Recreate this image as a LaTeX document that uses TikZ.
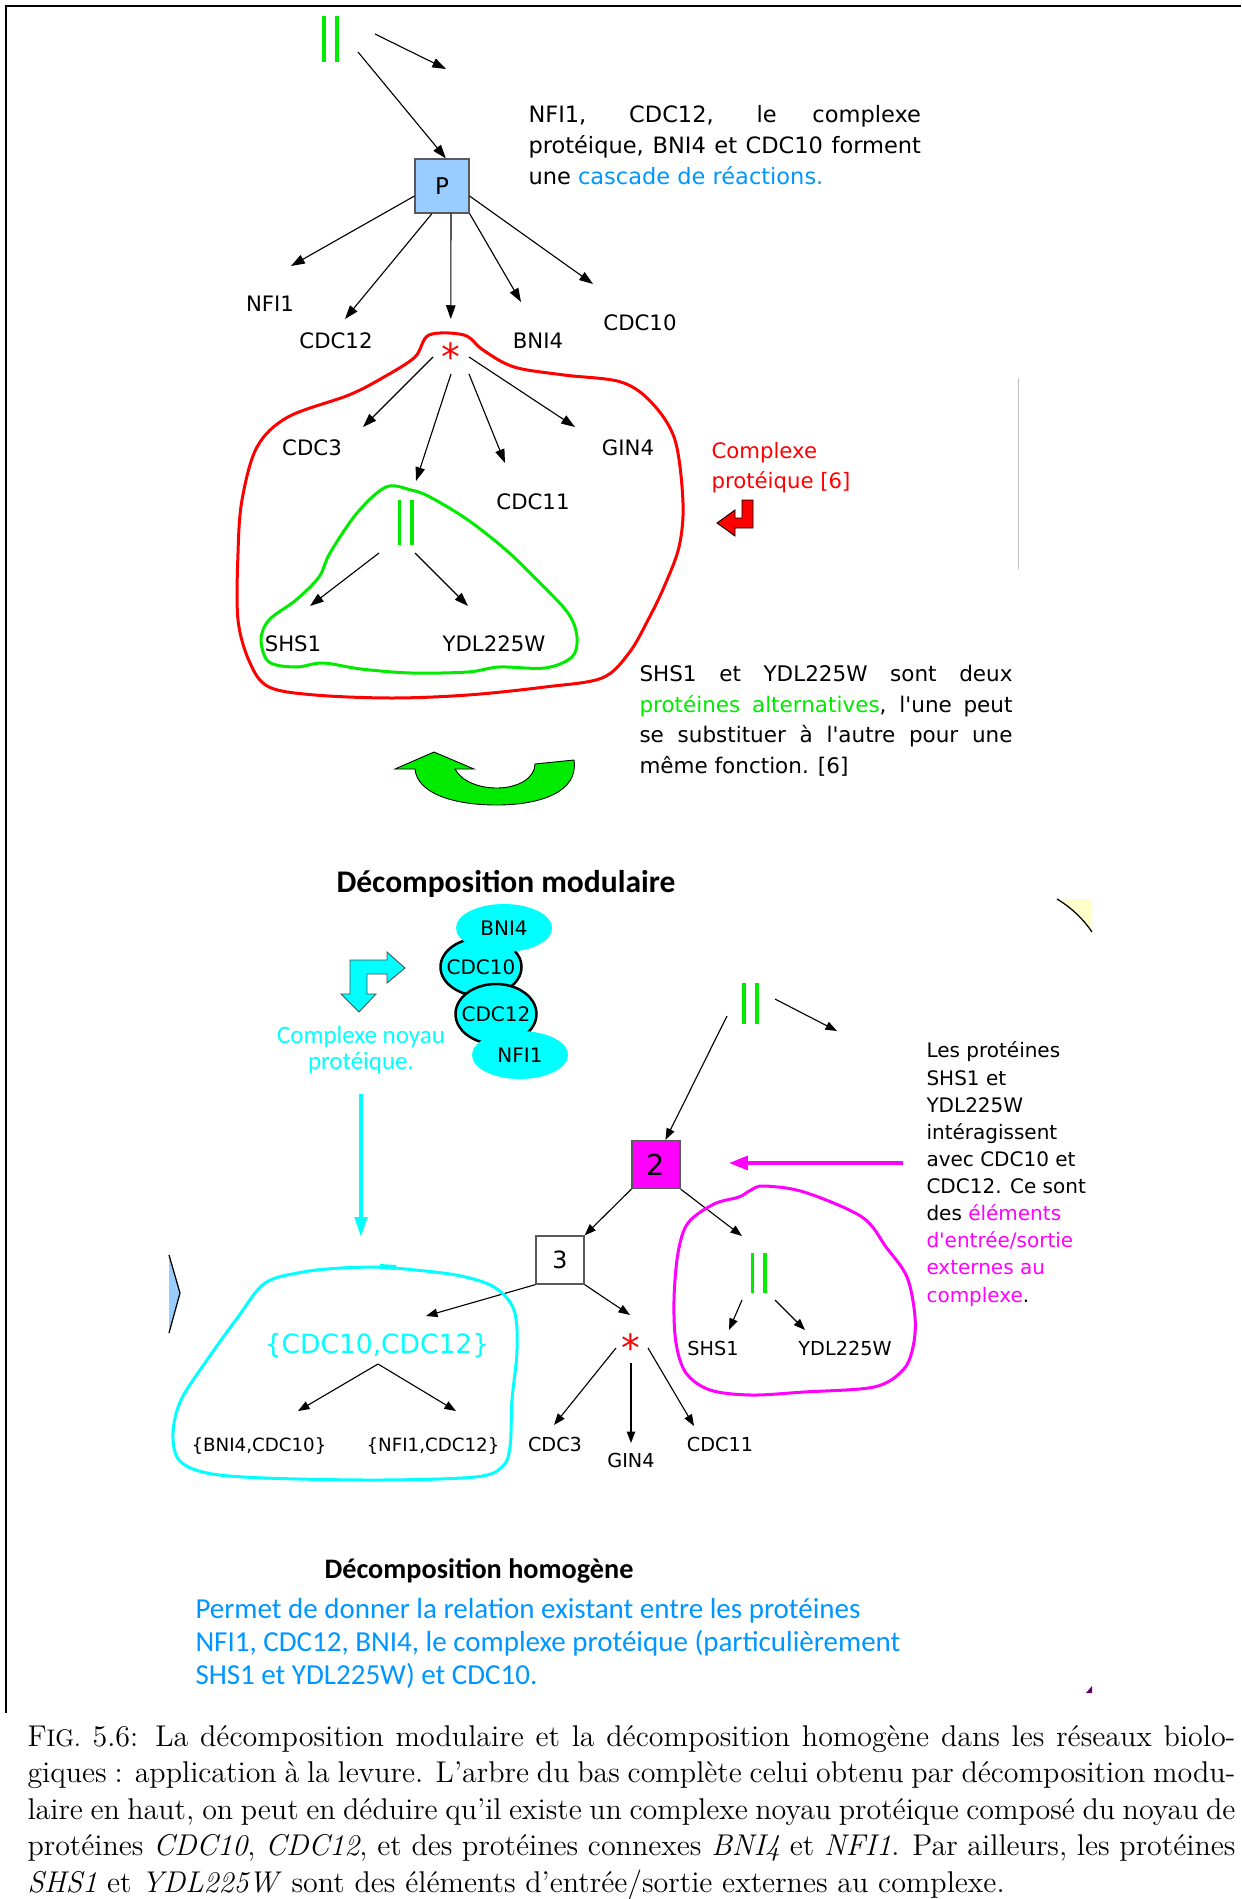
\documentclass[tikz,border=0pt]{standalone}
\usepackage{fontspec}
\newfontfamily\dvs{DejaVu Sans}
\newfontfamily\carl{Carlito}
\usetikzlibrary{arrows.meta,shapes.geometric}

\definecolor{pred}{RGB}{255,0,0}
\definecolor{pgreen}{RGB}{0,235,0}
\definecolor{pblue}{RGB}{0,150,255}
\definecolor{pcyan}{RGB}{0,255,255}
\definecolor{pmag}{RGB}{255,0,255}
\definecolor{pboxblue}{RGB}{153,204,255}
\definecolor{pyellow}{RGB}{255,255,204}
\definecolor{ppurple}{RGB}{102,0,102}

\tikzset{
  arr/.style={-{Triangle[length=5.5pt,width=3.8pt]},line width=0.45pt},
  arrs/.style={-{Triangle[length=4.6pt,width=3.4pt]},line width=0.45pt},
  lbl/.style={font=\dvs\fontsize{8.5}{10}\selectfont,inner sep=0,anchor=base},
  lbls/.style={font=\dvs\fontsize{7.7}{9}\selectfont,inner sep=0,anchor=base},
  parbars/.style={minimum width=7.2pt,minimum height=#1,inner sep=0,
    path picture={\draw[pgreen,line width=1.5pt]
      ([xshift=-2.5pt]path picture bounding box.north)--([xshift=-2.5pt]path picture bounding box.south)
      ([xshift=2.5pt]path picture bounding box.north)--([xshift=2.5pt]path picture bounding box.south);}},
  starmark/.style={text=pred,font=\dvs\fontsize{15}{15}\selectfont,inner sep=0,anchor=base},
  blob/.style={line width=1.2pt,smooth cycle,tension=0.55},
  sqbox/.style={draw=gray!70!black,line width=0.5pt,minimum size=#1,inner sep=0},
  blob ell/.style={ellipse,fill=pcyan,inner xsep=-3pt,inner ysep=0pt,font=\dvs\fontsize{8}{9}\selectfont},
  iconedge/.style={draw=black,line width=0.35pt},
  % multi-line blocks are anchored at the baseline of their last line
  para/.style={anchor=base west,inner sep=0,align=left},
}

\begin{document}
\begin{tikzpicture}[x=0.4pt,y=-0.4pt]
\path[use as bounding box] (0,0) rectangle (1241,1899);

% frame
\draw[line width=1pt] (6,1713) -- (6,6) -- (1241,6);

% ---------------- upper tree ----------------
\node[parbars=18.4pt] (par1) at (330.5,39) {};
\node[sqbox=21.6pt,fill=pboxblue,font=\dvs\fontsize{9.2}{10}\selectfont] (P) at (442,186) {P};
\coordinate (a1s) at (375,34);  \coordinate (a1e) at (446,69);
\coordinate (a2s) at (358,52);
\draw[arr] (a1s) -- (a1e);
\draw[arr] (a2s) -- (P.82);

\coordinate (eNFI) at (291,266);
\coordinate (eCDCa) at (345,319);
\coordinate (eMid) at (450.8,319);
\coordinate (eBNI) at (521,302);
\coordinate (eCDCb) at (593,284);
\draw[arr] (P.200) -- (eNFI);
\draw[arr] (P.250) -- (eCDCa);
\draw[arr] (P.288) -- (eMid);
\draw[arr] (P.315) -- (eBNI);
\draw[arr] (P.340) -- (eCDCb);

\node[lbl] (tNFI) at (270,311) {NFI1};
\node[lbl] (tCDC12) at (336,348) {CDC12};
\node[lbl] (tBNI) at (538,348) {BNI4};
\node[lbl] (tCDC10) at (640,330) {CDC10};

% protein complex
\draw[pred,blob] plot coordinates {(429,335) (464,335) (483,350) (514,367) (564,375) (621,382) (652,403) (675,440) (683,503) (679,547) (664,587) (648,620) (629,653) (602,678) (545,687) (468,695) (392,698) (315,695) (269,687) (250,663) (238,620) (238,553) (242,500) (257,447) (288,417) (349,395) (384,377) (415,357)};
\node[starmark] (st1) at (451,370) {*};
\coordinate (s1a) at (433,357); \coordinate (s1ae) at (363,427);
\coordinate (s1b) at (451,374); \coordinate (s1be) at (416,481);
\coordinate (s1c) at (469,374); \coordinate (s1ce) at (505,463);
\coordinate (s1d) at (469,357); \coordinate (s1de) at (575,427);
\draw[arr] (s1a) -- (s1ae);
\draw[arr] (s1b) -- (s1be);
\draw[arr] (s1c) -- (s1ce);
\draw[arr] (s1d) -- (s1de);
\node[lbl] (tCDC3) at (312,455) {CDC3};
\node[lbl] (tGIN4) at (628,455) {GIN4};
\node[lbl] (tCDC11) at (533,509) {CDC11};

% alternative proteins
\draw[pgreen,blob] plot coordinates {(386,487) (411,490) (430,497) (468,520) (506,550) (537,580) (568,613) (577,637) (572,657) (545,668) (499,667) (468,672) (411,673) (361,669) (323,663) (296,667) (269,662) (261,640) (269,620) (296,600) (319,577) (330,553) (357,513)};
\node[parbars=18pt] (par2) at (405.75,522.5) {};
\coordinate (p2a) at (379,553); \coordinate (p2ae) at (310,606);
\coordinate (p2b) at (415,553); \coordinate (p2be) at (468,606);
\draw[arr] (p2a) -- (p2ae);
\draw[arr] (p2b) -- (p2be);
\node[lbl] (tSHS1) at (293,651) {SHS1};
\node[lbl] (tYDL) at (494,651) {YDL225W};

% texts of the upper part
\node[para,font=\dvs\fontsize{9}{12.4}\selectfont] (txtTop) at (528,185)
  {\makebox[157pt][s]{NFI1, CDC12, le complexe}\\
   \makebox[157pt][s]{protéique, BNI4 et CDC10 forment}\\
   une \textcolor{pblue}{cascade de réactions.}};
\node[para,text=pred,font=\dvs\fontsize{8.5}{12}\selectfont] (txtCplx) at (711,488)
  {Complexe\\protéique [6]};
\node[para,font=\dvs\fontsize{8.6}{12.2}\selectfont] (txtAlt) at (639,773)
  {\makebox[149.2pt][s]{SHS1 et YDL225W sont deux}\\
   \makebox[149.2pt][s]{\textcolor{pgreen}{protéines alternatives}, l\textquotesingle une peut}\\
   \makebox[149.2pt][s]{se substituer à l\textquotesingle autre pour une}\\
   même fonction. [6]};

% red bent arrow
\path[fill=pred,iconedge] (742,500) -- (753,500) -- (753,528) -- (735,528) -- (735,536) -- (717,523) -- (735,510) -- (735,518) -- (742,518) -- cycle;
% thin grey rule
\draw[gray!50,line width=0.3pt] (1018,378) -- (1018,569);

% green round arrow
\path[fill=pgreen,iconedge] (574,760) .. controls (579,792) and (540,805) .. (497,805)
  .. controls (450,805) and (417,792) .. (415,769) -- (395,769) -- (434,752) -- (474,769) -- (455,769)
  .. controls (462,782) and (480,788) .. (497,788) .. controls (518,788) and (535,778) .. (535,764) -- cycle;

% ---------------- modular decomposition ----------------
\node[anchor=base,inner sep=0,font=\carl\bfseries\fontsize{12.6}{14}\selectfont] (tMod) at (506,892) {Décomposition modulaire};

\node[blob ell,draw=black,line width=1pt,minimum width=32.4pt,minimum height=23.2pt] (eC10) at (481,967) {CDC10};
\node[blob ell,draw=black,line width=1pt,minimum width=32.4pt,minimum height=24pt] (eC12) at (496,1014) {CDC12};
\node[blob ell,minimum width=38.4pt,minimum height=19.2pt] (eBNI) at (504,928) {BNI4};
\node[blob ell,minimum width=38.4pt,minimum height=19.2pt] (eNFI) at (520,1055) {NFI1};

% cyan bent arrow
\path[fill=pcyan,draw=black!70,line width=0.35pt] (350,960) -- (387,960) -- (387,952) -- (405,968) -- (387,983) -- (387,974) -- (367,974) -- (367,994) -- (376,994) -- (359,1012) -- (341,994) -- (350,994) -- cycle;
\node[anchor=base,inner sep=0,align=center,text=pcyan,font=\carl\fontsize{10}{10.4}\selectfont] (tNoyau) at (361,1069) {Complexe noyau\\protéique.};
\coordinate (cyS) at (361,1094); \coordinate (cyE) at (361,1237);
\draw[pcyan,line width=1.4pt,-{Triangle[length=8pt,width=5pt]}] (cyS) -- (cyE);

% yellow and blue corner pieces
\path[fill=pyellow] (1057,899) .. controls (1072,908) and (1084,920) .. (1092,932) -- (1092,899) -- cycle;
\draw[line width=0.5pt] (1057,899) .. controls (1072,908) and (1084,920) .. (1092,932);
\path[fill=pboxblue] (169,1255) -- (180,1293) -- (169,1333) -- cycle;
\draw[line width=0.5pt] (169,1255) -- (180,1293) -- (169,1333);
\path[fill=ppurple] (1086,1693) -- (1092,1686) -- (1092,1693) -- cycle;

% ---------------- homogeneous tree ----------------
\node[parbars=16.4pt] (par3) at (750.5,1003.5) {};
\node[sqbox=19.2pt,fill=pmag,font=\dvs\fontsize{11.5}{12}\selectfont] (b2) at (656,1164.5) {2};
\node[sqbox=19.2pt,fill=white,font=\dvs\fontsize{9.5}{11}\selectfont] (b3) at (560,1260) {3};
\coordinate (p3a) at (775,999); \coordinate (p3ae) at (837,1031);
\coordinate (p3b) at (727,1016);
\draw[arrs] (p3a) -- (p3ae);
\draw[arrs] (p3b) -- (b2.69);
\draw[arrs] (b2.south west) -- (b3.north east);
\coordinate (b2e) at (742,1236);
\draw[arrs] (b2.south east) -- (b2e);

\coordinate (mgS) at (903,1163); \coordinate (mgE) at (729,1163);
\draw[pmag,line width=1.4pt,-{Triangle[length=7.5pt,width=5.5pt]}] (mgS) -- (mgE);

\coordinate (b3a) at (426,1316); \coordinate (b3b) at (630,1315);
\draw[arrs] (b3.south west) -- (b3a);
\draw[arrs] (b3.south east) -- (b3b);

\node[starmark] (st2) at (631,1361) {*};
\coordinate (s2a) at (616,1348); \coordinate (s2ae) at (554,1425);
\coordinate (s2b) at (631,1363); \coordinate (s2be) at (631,1443);
\coordinate (s2c) at (648,1348); \coordinate (s2ce) at (694,1426);
\draw[arrs] (s2a) -- (s2ae);
\draw[arrs] (s2b) -- (s2be);
\draw[arrs] (s2c) -- (s2ce);
\node[lbls] (lCDC3) at (555,1451) {CDC3};
\node[lbls] (lGIN4) at (631,1467) {GIN4};
\node[lbls] (lCDC11) at (720,1451) {CDC11};

% core complex
\draw[pcyan,blob] plot coordinates {(380,1267) (395,1268) (456,1275) (494,1287) (514,1310) (517,1350) (512,1400) (510,1447) (502,1467) (475,1477) (380,1480) (265,1478) (207,1473) (179,1460) (173,1433) (181,1400) (207,1360) (238,1317) (265,1283) (303,1272) (341,1268)};
\draw[pcyan,line width=2pt] (380,1266.5) -- (396,1267.5);
\node[anchor=base,inner sep=0,text=pcyan,font=\dvs\fontsize{10.6}{12}\selectfont] (lCore) at (377,1353) {\{CDC10,CDC12\}};
\coordinate (cA) at (378,1364);
\coordinate (cAl) at (298,1411); \coordinate (cAr) at (456,1411);
\draw[arrs] (cA) -- (cAl);
\draw[arrs] (cA) -- (cAr);
\node[anchor=base,inner sep=0,font=\dvs\fontsize{7.3}{9}\selectfont] (lBC) at (259,1451) {\{BNI4,CDC10\}};
\node[anchor=base,inner sep=0,font=\dvs\fontsize{7.3}{9}\selectfont] (lNC) at (433,1451) {\{NFI1,CDC12\}};

% external input/output elements
\draw[pmag,blob] plot coordinates {(751,1190) (764,1186) (804,1192) (862,1217) (886,1247) (907,1277) (915,1317) (913,1347) (903,1370) (874,1387) (804,1392) (751,1395) (710,1390) (686,1373) (676,1343) (674,1300) (678,1253) (688,1223) (714,1204) (739,1197)};
\node[parbars=16pt] (par4) at (758.75,1273) {};
\coordinate (p4a) at (742,1300); \coordinate (p4ae) at (729,1330);
\coordinate (p4b) at (775,1300); \coordinate (p4be) at (805,1330);
\draw[arrs] (p4a) -- (p4ae);
\draw[arrs] (p4b) -- (p4be);
\node[lbls] (lSHS1) at (713,1355) {SHS1};
\node[lbls] (lYDL) at (845,1355) {YDL225W};

\node[para,font=\dvs\fontsize{8}{10.85}\selectfont] (txtIO) at (926,1302)
  {Les protéines\\SHS1 et\\YDL225W\\intéragissent\\avec CDC10 et\\CDC12. Ce sont\\
   des \textcolor{pmag}{éléments}\\\textcolor{pmag}{d\textquotesingle entrée/sortie}\\
   \textcolor{pmag}{externes au}\\\textcolor{pmag}{complexe}.};

% homogeneous decomposition
\node[anchor=base,inner sep=0,font=\carl\bfseries\fontsize{11.3}{13}\selectfont] (tHom) at (479,1578) {Décomposition homogène};
\node[para,text=pblue,font=\carl\fontsize{11.6}{13.2}\selectfont] (txtHom) at (195,1684)
  {Permet de donner la relation existant entre les protéines\\
   NFI1, CDC12, BNI4, le complexe protéique (particulièrement\\
   SHS1 et YDL225W) et CDC10.};

% caption
\node[para,font=\fontsize{12}{14.6}\selectfont] (cap) at (27,1892)
  {\makebox[483.2pt][s]{F{\fontsize{9.6}{14.6}\selectfont IG.} 5.6: La décomposition modulaire et la décomposition homogène dans les réseaux biolo-}\\
   \makebox[483.2pt][s]{giques~: application à la levure. L'arbre du bas complète celui obtenu par décomposition modu-}\\
   \makebox[483.2pt][s]{laire en haut, on peut en déduire qu'il existe un complexe noyau protéique composé du noyau de}\\
   \makebox[483.2pt][s]{protéines \textit{CDC10}, \textit{CDC12}, et des protéines connexes \textit{BNI4} et \textit{NFI1}. Par ailleurs, les protéines}\\
   \textit{SHS1} et \textit{YDL225W} sont des éléments d'entrée/sortie externes au complexe.};
\end{tikzpicture}
\end{document}
